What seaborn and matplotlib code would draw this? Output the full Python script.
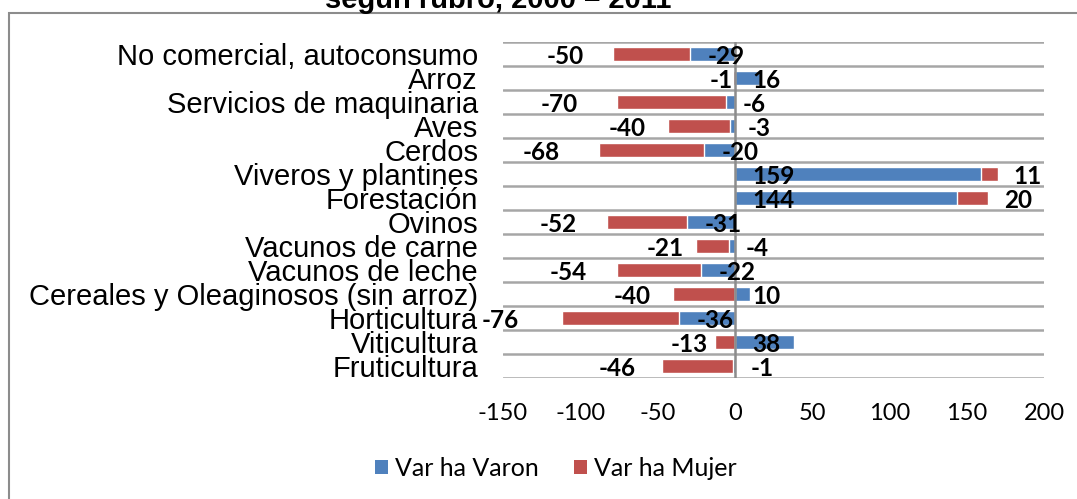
import matplotlib
matplotlib.use("Agg")
import matplotlib.pyplot as plt
from matplotlib.patches import Rectangle, Patch
import seaborn as sns
import numpy as np
import pandas as pd

categories = ["No comercial, autoconsumo", "Arroz", "Servicios de maquinaria", "Aves",
              "Cerdos", "Viveros y plantines", "Forestación", "Ovinos", "Vacunos de carne",
              "Vacunos de leche", "Cereales y Oleaginosos (sin arroz)", "Horticultura",
              "Viticultura", "Fruticultura"]
varon = [-29, 16, -6, -3, -20, 159, 144, -31, -4, -22, 10, -36, 38, -1]
mujer = [-50, -1, -70, -40, -68, 11, 20, -52, -21, -54, -40, -76, -13, -46]
xticks = [-150, -100, -50, 0, 50, 100, 150, 200]
title = "según rubro, 2000 – 2011"
legend_labels = ["Var ha Varon", "Var ha Mujer"]

BLUE = "#4F81BD"
RED = "#C0504D"
GRID = "#A6A6A6"

sns.set_theme(style="white")
plt.rcParams["font.family"] = ["Liberation Sans", "DejaVu Sans"]
plt.rcParams["text.color"] = "black"
plt.rcParams["xtick.color"] = "black"
plt.rcParams["ytick.color"] = "black"

df = pd.DataFrame({"cat": categories, "varon": varon, "mujer": mujer})
# outer (stacked) extent of the Mujer segment
df["mujer_end"] = np.where(np.sign(df["varon"]) == np.sign(df["mujer"]),
                           df["varon"] + df["mujer"], df["mujer"])

fig = plt.figure(figsize=(10.77, 4.99), dpi=100)
ax = fig.add_axes([503 / 1077, 1 - 378 / 499, (1044 - 503) / 1077, (378 - 42) / 499])

sns.barplot(data=df, y="cat", x="mujer_end", orient="h", color=RED, width=0.62,
            saturation=1, ax=ax, order=categories)
sns.barplot(data=df, y="cat", x="varon", orient="h", color=BLUE, width=0.62,
            saturation=1, ax=ax, order=categories)

ax.set_xlim(xticks[0], xticks[-1])
ax.set_ylim(len(categories) - 0.5, -0.5)
ax.set_xlabel("")
ax.set_ylabel("")
ax.set_xticks(xticks)
ax.set_xticklabels([str(t) for t in xticks], fontsize=17, family="Lato", color="black")
ax.set_yticklabels(categories, fontsize=21, family="Liberation Sans", color="black")
ax.tick_params(axis="y", length=0, pad=18)
ax.tick_params(axis="x", length=0, pad=18)
ax.set_yticks(np.arange(-0.5, len(categories), 1), minor=True)
ax.tick_params(axis="y", which="minor", length=0)
ax.grid(which="minor", axis="y", color=GRID, lw=1.8)
ax.grid(which="major", axis="both", visible=False)
for s in ax.spines.values():
    s.set_visible(False)
ax.axvline(0, color="#8C8C8C", lw=1.8, zorder=5)

# data labels
for i, (v, m) in enumerate(zip(varon, mujer)):
    base = min(v, 0)
    ax.annotate(str(v), xy=(base, i), xytext=(12.5, -2), textcoords="offset points",
                ha="left", va="center", fontsize=17.5, fontweight="bold", family="Lato",
                color="black", zorder=6)
    if m < 0:
        ax.annotate(str(m), xy=(base + 1.37 * m, i), xytext=(0, -2), textcoords="offset points",
                    ha="right", va="center", fontsize=17.5, fontweight="bold", family="Lato",
                    color="black", zorder=6)
    else:
        ax.annotate(str(m), xy=(v + m, i), xytext=(11, -2), textcoords="offset points",
                    ha="left", va="center", fontsize=17.5, fontweight="bold", family="Lato",
                    color="black", zorder=6)

handles = [Patch(facecolor=BLUE, edgecolor="none"), Patch(facecolor=RED, edgecolor="none")]
fig.legend(handles, legend_labels, loc="center", bbox_to_anchor=(556 / 1077, 1 - 468 / 499),
           ncol=2, frameon=False, prop={"family": "Lato", "size": 18},
           handlelength=0.5, handleheight=0.5, handletextpad=0.3, columnspacing=1.4)

fig.text(498 / 1077, 1 - 8 / 499, title, ha="center", va="baseline", fontsize=21,
         fontweight="bold", family="Liberation Sans", color="black")

fig.patches.append(Rectangle((9 / 1077, -0.1), 1.2, 1.1 - 13 / 499, transform=fig.transFigure,
                             fill=False, edgecolor="#8C8C8C", lw=1.5))

fig.savefig("out.png", dpi=100)
